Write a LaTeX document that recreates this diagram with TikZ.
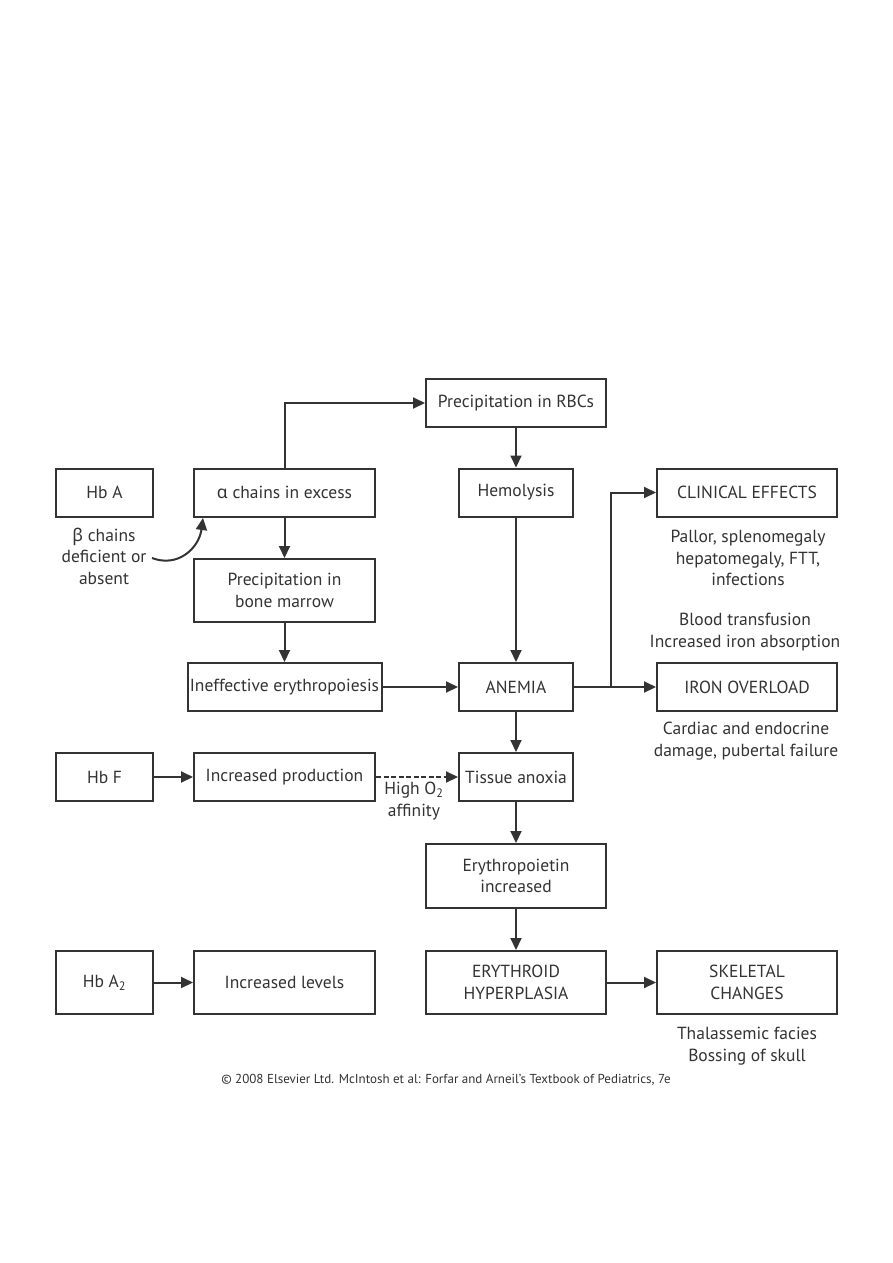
\documentclass[tikz,border=0pt]{standalone}
\usepackage{fontspec}
\setmainfont{PT Sans}
\newfontfamily\grk{Noto Sans}
\usetikzlibrary{arrows.meta}
\definecolor{ink}{HTML}{333333}
\begin{document}
\begin{tikzpicture}[x=1pt,y=-1pt,
  box/.style={draw=ink,line width=2pt,inner sep=0pt,align=center,text=ink,font=\fontsize{17.5}{21.5}\selectfont},
  lbl/.style={align=center,text=ink,inner sep=0pt,font=\fontsize{17.5}{21.5}\selectfont},
  arr/.style={draw=ink,line width=2pt,-{Triangle[length=12pt,width=11pt]}},
]
\useasboundingbox (0,0) rectangle (893,1263);
\fill[white] (0,0) rectangle (893,1263);
% boxes
\node[box,minimum width=180,minimum height=48] (rbc) at (516,403) {Precipitation in RBCs};
\node[box,minimum width=97,minimum height=48] (hba) at (104.5,492.5) {Hb A};
\node[box,minimum width=181,minimum height=48] (alpha) at (284.5,492.5) {{\grk α} chains in excess};
\node[box,minimum width=114,minimum height=48] (hemo) at (516,492.5) {Hemolysis};
\node[box,minimum width=180,minimum height=48] (clin) at (747,492.5) {CLINICAL EFFECTS};
\node[box,minimum width=181,minimum height=63] (pbm) at (284.5,590.5) {Precipitation in\\bone marrow};
\node[box,minimum width=194,minimum height=48] (ineff) at (284.5,687) {Ineffective erythropoiesis};
\node[box,minimum width=114,minimum height=48] (anemia) at (516,687) {ANEMIA};
\node[box,minimum width=180,minimum height=48] (iron) at (747,687) {IRON OVERLOAD};
\node[box,minimum width=97,minimum height=48] (hbf) at (104.5,777) {Hb F};
\node[box,minimum width=181,minimum height=48] (incprod) at (284.5,777) {Increased production};
\node[box,minimum width=114,minimum height=48] (anoxia) at (516,777) {Tissue anoxia};
\node[box,minimum width=180,minimum height=64] (epo) at (516,876) {Erythropoietin\\increased};
\node[box,minimum width=97,minimum height=63] (hba2) at (104.5,982.5) {Hb A\textsubscript{2}};
\node[box,minimum width=181,minimum height=63] (inclev) at (284.5,982.5) {Increased levels};
\node[box,minimum width=180,minimum height=63] (ery) at (516,982.5) {ERYTHROID\\HYPERPLASIA};
\node[box,minimum width=180,minimum height=63] (skel) at (747,982.5) {SKELETAL\\CHANGES};
% labels
\node[lbl] (beta) at (104,556) {{\grk β} chains\\deficient or\\absent};
\node[lbl] (pallor) at (748,558) {Pallor, splenomegaly\\hepatomegaly, FTT,\\infections};
\node[lbl] (blood) at (745,632) {Blood transfusion\\Increased iron absorption};
\node[lbl] (cardiac) at (746,741) {Cardiac and endocrine\\damage, pubertal failure};
\node[lbl] (high) at (414,801) {High O\textsubscript{2}\\affinity};
\node[lbl] (thal) at (747,1046) {Thalassemic facies\\Bossing of skull};
\node[text=ink,font=\fontsize{13}{14}\selectfont] (copy) at (446,1080) {\textcopyright{} 2008 Elsevier Ltd. McIntosh et al: Forfar and Arneil's Textbook of Pediatrics, 7e};
% connectors
\coordinate (bt) at (152,558);
\coordinate (atip) at (203,518);
\coordinate (br) at (611,687);
\draw[arr] (alpha.north) |- (rbc.west);
\draw[arr] (rbc) -- (hemo);
\draw[arr] (alpha) -- (pbm);
\draw[arr] (pbm) -- (ineff);
\draw[arr] (hemo) -- (anemia);
\draw[arr] (ineff) -- (anemia);
\draw[arr] (anemia) -- (iron);
\draw[arr] (br) |- (clin.west);
\draw[arr] (anemia) -- (anoxia);
\draw[arr] (hbf) -- (incprod);
\draw[arr,dashed,dash pattern=on 5pt off 2.5pt] (incprod) -- (anoxia);
\draw[arr] (anoxia) -- (epo);
\draw[arr] (epo) -- (ery);
\draw[arr] (hba2) -- (inclev);
\draw[arr] (ery) -- (skel);
\draw[arr] (bt) .. controls (178,568) and (199,548) .. (atip);
\end{tikzpicture}
\end{document}
